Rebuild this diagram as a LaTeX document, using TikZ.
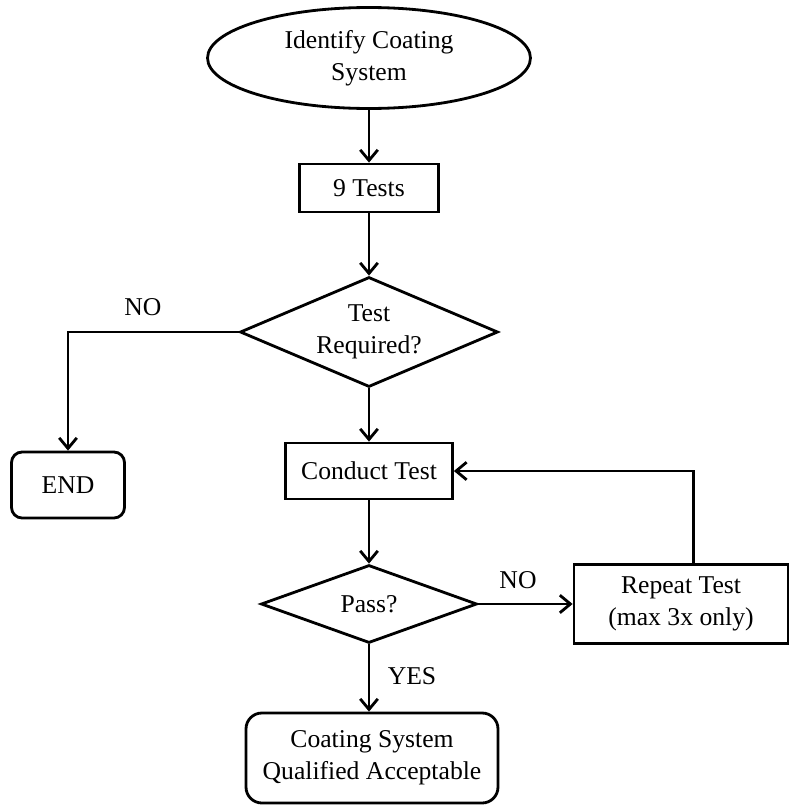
\documentclass[tikz,border=0pt]{standalone}
\usepackage{fontspec}
\setmainfont{Liberation Serif}
\usetikzlibrary{arrows.meta,shapes.geometric}

\begin{document}
\begin{tikzpicture}[x=0.02cm, y=-0.02cm, font=\fontsize{14.6}{18}\selectfont,
  link/.style={-{Straight Barb[length=6pt,width=10pt,line width=1.6pt]}, line width=1.6pt},
  box/.style={draw, line width=1.6pt, inner sep=0pt, align=center},
  roundbox/.style={box, rounded corners=6pt},
  decision/.style={diamond, draw, line width=1.6pt, inner sep=0pt, align=center},
  startend/.style={ellipse, draw, line width=1.6pt, inner sep=0pt, align=center}]
\useasboundingbox (0,0) rectangle (792,805);
\node[startend, minimum width=6.46cm, minimum height=2.02cm] (ident) at (369,58) {Identify Coating\\System};
\node[box, minimum width=2.78cm, minimum height=0.96cm] (nine) at (369,188) {9 Tests};
\node[decision, aspect=2.35, inner ysep=-3pt, minimum width=5.16cm, minimum height=2.2cm] (req) at (369,332) {Test\\Required?};
\node[roundbox, minimum width=2.26cm, minimum height=1.32cm] (end) at (68,485) {END};
\node[box, minimum width=3.34cm, minimum height=1.12cm] (cond) at (369,471) {Conduct Test};
\node[decision, aspect=2.77, minimum width=4.32cm, minimum height=1.56cm] (pass) at (369,604) {Pass?};
\node[box, minimum width=4.28cm, minimum height=1.58cm] (rep) at (681,604) {Repeat Test\\(max 3x only)};
\node[roundbox, rounded corners=9pt, minimum width=5.04cm, minimum height=1.8cm] (qual) at (372,758) {Coating System\\Qualified Acceptable};
% labels
\node (noreq) at (143,307) {NO};
\node (nopass) at (518,580) {NO};
\node (yes) at (412,676) {YES};
% connectors
\draw[link] (ident) -- (nine);
\draw[link] (nine) -- (req);
\draw[link] (req.west) -| (end.north);
\draw[link] (req) -- (cond);
\draw[link] (cond) -- (pass);
\draw[link] (pass.east) -- (rep.west);
\draw[link] ([xshift=7]rep.north) |- (cond.east);
\draw[link] (pass) -- (qual.north -| pass);
\end{tikzpicture}
\end{document}
